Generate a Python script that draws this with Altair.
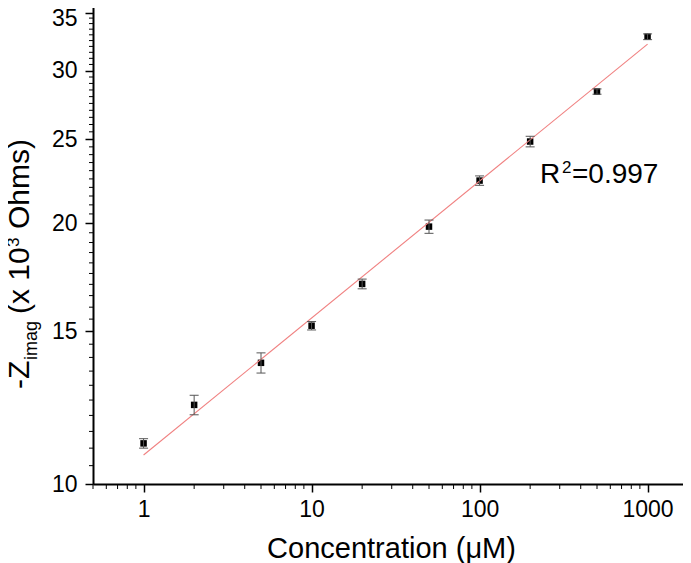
import altair as alt
import pandas as pd

# ---- data ----
conc = [1, 2, 5, 10, 20, 50, 100, 200, 500, 1000]
z_imag = [11.14, 12.34, 13.80, 15.23, 17.02, 19.82, 22.40, 24.85, 28.38, 32.83]
z_err = [0.14, 0.32, 0.37, 0.17, 0.22, 0.35, 0.28, 0.35, 0.20, 0.25]

fit_conc = [1, 1000]
fit_z = [10.80, 32.2]

x_major = [1, 10, 100, 1000]
x_minor = [0.5, 0.6, 0.7, 0.8, 0.9, 2, 3, 4, 5, 6, 7, 8, 9,
           20, 30, 40, 50, 60, 70, 80, 90, 200, 300, 400, 500, 600, 700, 800, 900]
y_major = [10, 15, 20, 25, 30, 35]
y_minor = [10.5, 11, 11.5, 12, 12.5, 13, 13.5, 14, 14.5,
           15.5, 16, 16.5, 17, 17.5, 18, 18.5, 19, 19.5,
           20.5, 21, 21.5, 22, 22.5, 23, 23.5, 24, 24.5,
           25.5, 26, 26.5, 27, 27.5, 28, 28.5, 29, 29.5,
           30.5, 31, 31.5, 32, 32.5, 33, 33.5, 34, 34.5,
           35.5, 36]

x_title = "Concentration (μM)"
r2_value = "=0.997"

FONT = "Liberation Sans"

df = pd.DataFrame({"conc": conc, "z": z_imag, "err": z_err})
df["lo"] = df["z"] - df["err"]
df["hi"] = df["z"] + df["err"]
fit_df = pd.DataFrame({"conc": fit_conc, "z": fit_z})
one = pd.DataFrame({"k": [0]})

xscale = alt.Scale(type="log", domain=[0.5, 1625], nice=False)
yscale = alt.Scale(type="log", domain=[10, 36.2], nice=False)

x_axis = alt.Axis(values=x_major, format="d", tickSize=8, tickWidth=1.5,
                  tickColor="black", domainColor="black", domainWidth=2,
                  labelFont=FONT, labelFontSize=23, labelColor="black",
                  labelPadding=6, grid=False, title=x_title, titleFont=FONT,
                  titleFontSize=29, titleFontWeight="normal", titleColor="black",
                  titleX=298, titleY=73, titleAlign="center",
                  titleBaseline="alphabetic")
y_axis = alt.Axis(values=y_major, tickSize=8, tickWidth=1.5, tickColor="black",
                  domainColor="black", domainWidth=2, labelFont=FONT,
                  labelFontSize=23, labelColor="black", labelPadding=8,
                  labelOffset={"condition": {"test": "datum.value == 35", "value": 6}, "value": 0},
                  grid=False, title=None)

X = lambda f: alt.X(f, scale=xscale, axis=x_axis)
Y = lambda f: alt.Y(f, scale=yscale, axis=y_axis)

points = alt.Chart(df).mark_square(size=42, color="black", opacity=1, filled=True).encode(
    x=X("conc:Q"), y=Y("z:Q"))

bars = alt.Chart(df).mark_rule(color="#555555", strokeWidth=1).encode(
    x=X("conc:Q"), y=Y("lo:Q"), y2="hi:Q")
cap_lo = alt.Chart(df).mark_tick(orient="horizontal", size=9, thickness=1,
                                 color="#555555", opacity=1).encode(x=X("conc:Q"), y=Y("lo:Q"))
cap_hi = alt.Chart(df).mark_tick(orient="horizontal", size=9, thickness=1,
                                 color="#555555", opacity=1).encode(x=X("conc:Q"), y=Y("hi:Q"))

fit = alt.Chart(fit_df).mark_line(color="#f08080", strokeWidth=1.1).encode(
    x=X("conc:Q"), y=Y("z:Q"))

y_minor_ticks = alt.Chart(pd.DataFrame({"v": y_minor})).mark_rule(color="black", strokeWidth=1).encode(
    y=Y("v:Q"), x=alt.value(-4), x2=alt.value(0))
x_minor_ticks = alt.Chart(pd.DataFrame({"v": x_minor})).mark_rule(color="black", strokeWidth=1).encode(
    x=X("v:Q"), y=alt.value(484), y2=alt.value(489))


def txt(s, x, y, size, angle=0):
    return alt.Chart(one).mark_text(text=s, font=FONT, fontSize=size, color="black",
                                    angle=angle, align="left", baseline="alphabetic").encode(
        x=alt.value(x), y=alt.value(y))


# plot origin sits at page (93, 0)
texts = [
    txt("R", 447, 183, 28),
    txt("2", 469, 173, 17),
    txt(r2_value, 479, 183, 28),
    txt("-Z", -64, 389, 30, angle=270),
    txt("imag", -56, 360, 18, angle=270),
    txt("(x 10", -64, 314, 30, angle=270),
    txt("3", -74, 247, 17, angle=270),
    txt("Ohms)", -64, 229, 30, angle=270),
]

chart = alt.layer(points, fit, bars, cap_lo, cap_hi, y_minor_ticks, x_minor_ticks, *texts).properties(
    width=590, height=484,
    autosize=alt.AutoSizeParams(type="none"),
    padding={"left": 85, "top": -8, "right": 0, "bottom": 79},
    background="white",
).configure_view(stroke=None)

chart.save("out.html", embed_options={"renderer": "svg", "actions": False})
